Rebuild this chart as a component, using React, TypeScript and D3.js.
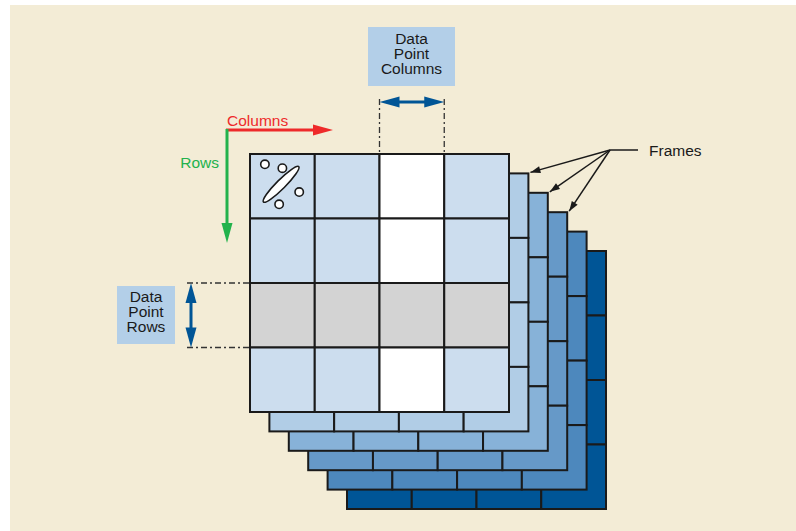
import React from "react";
import * as d3 from "d3";

const W = 796;
const H = 531;

// Data
const columnIds = ["c1", "c2", "c3", "c4"];
const rowIds = ["r1", "r2", "r3", "r4"];
const highlightColumn = "c3";
const highlightRow = "r3";
const frameIds = [1, 2, 3, 4, 5];
const frameColors = ["#B1CDE6", "#87B2D8", "#6699C8", "#4D88BD", "#005596"];
const framesPointedAt = [1, 2, 3];
const dpColumnsLabel = ["Data", "Point", "Columns"];
const dpRowsLabel = ["Data", "Point", "Rows"];
const scatterPoints = [
  [0.23, 0.16],
  [0.5, 0.22],
  [0.76, 0.59],
  [0.45, 0.78],
];

const FONT = "'Liberation Sans', Arial, Helvetica, sans-serif";
const STROKE = "#1a1a1a";

function arrowHead(x1: number, y1: number, x2: number, y2: number, len: number, hw: number) {
  const a = Math.atan2(y2 - y1, x2 - x1);
  const bx = x2 - len * Math.cos(a);
  const by = y2 - len * Math.sin(a);
  const px = -Math.sin(a) * hw;
  const py = Math.cos(a) * hw;
  return `M${x2},${y2}L${bx + px},${by + py}L${bx - px},${by - py}Z`;
}

export default function App() {
  const x = d3.scaleBand<string>().domain(columnIds).range([250, 509]);
  const y = d3.scaleBand<string>().domain(rowIds).range([154, 412]);
  const off = d3.scaleLinear().domain([0, 5]).range([0, 97]);

  const cellFill = (c: string, r: string) =>
    r === highlightRow ? "#D3D3D3" : c === highlightColumn ? "#FFFFFF" : "#CCDDEE";

  const cx0 = x(columnIds[0])!;
  const cy0 = y(rowIds[0])!;
  const bw = x.bandwidth();
  const bh = y.bandwidth();

  const hc = x(highlightColumn)!;
  const hr = y(highlightRow)!;

  const blue = "#005596";
  const red = "#EE2A2A";
  const green = "#22B24C";

  // Frames arrows origin
  const fo = [610, 150];

  return (
    <svg
      width={W}
      height={H}
      style={{ position: "absolute", left: 0, top: 0, background: "#fff" }}
      fontFamily={FONT}
    >
      <rect x={10} y={5} width={W - 10} height={H - 5} fill="#F3ECD6" />

      {/* frames from back to front */}
      {[...frameIds].reverse().map((f) => {
        const d = off(f);
        return (
          <g key={f} transform={`translate(${d},${d})`}>
            {rowIds.map((r) =>
              columnIds.map((c) => (
                <rect
                  key={r + c}
                  x={x(c)}
                  y={y(r)}
                  width={bw}
                  height={bh}
                  fill={frameColors[f - 1]}
                  stroke={STROKE}
                  strokeWidth={2}
                />
              ))
            )}
          </g>
        );
      })}

      {/* main grid */}
      {rowIds.map((r) =>
        columnIds.map((c) => (
          <rect
            key={r + c}
            x={x(c)}
            y={y(r)}
            width={bw}
            height={bh}
            fill={cellFill(c, r)}
            stroke={STROKE}
            strokeWidth={2}
          />
        ))
      )}

      {/* scatter glyph in first cell */}
      <ellipse
        cx={cx0 + bw * 0.48}
        cy={cy0 + bh * 0.47}
        rx={25}
        ry={4.5}
        transform={`rotate(-45 ${cx0 + bw * 0.48} ${cy0 + bh * 0.47})`}
        fill="#fff"
        stroke={STROKE}
        strokeWidth={1.6}
      />
      {scatterPoints.map(([px, py], i) => (
        <circle
          key={i}
          cx={cx0 + px * bw}
          cy={cy0 + py * bh}
          r={4.2}
          fill="#fff"
          stroke={STROKE}
          strokeWidth={1.6}
        />
      ))}

      {/* Columns / Rows arrows */}
      <line x1={226} y1={130} x2={318} y2={130} stroke={red} strokeWidth={3} />
      <path d={arrowHead(226, 130, 333, 130, 20, 5.5)} fill={red} />
      <text x={227} y={126} fill={red} fontSize={15.5}>Columns</text>

      <line x1={227} y1={129} x2={227} y2={228} stroke={green} strokeWidth={3} />
      <path d={arrowHead(227, 130, 227, 243, 20, 5.5)} fill={green} />
      <text x={219} y={168} fill={green} fontSize={15.5} textAnchor="end">Rows</text>

      {/* Data Point Columns */}
      <rect x={368} y={27} width={87} height={59} fill="#B3CFE8" />
      {dpColumnsLabel.map((t, i) => (
        <text key={t} x={411.5} y={43.5 + i * 15} fontSize={15.5} textAnchor="middle" fill="#1a1a1a">
          {t}
        </text>
      ))}
      <line x1={hc} y1={99} x2={hc} y2={154} stroke="#333" strokeWidth={1.3} strokeDasharray="6,3,2,3" />
      <line x1={hc + bw} y1={99} x2={hc + bw} y2={154} stroke="#333" strokeWidth={1.3} strokeDasharray="6,3,2,3" />
      <line x1={hc + 15} y1={102} x2={hc + bw - 15} y2={102} stroke={blue} strokeWidth={3} />
      <path d={arrowHead(hc + bw, 102, hc, 102, 20, 5.5)} fill={blue} />
      <path d={arrowHead(hc, 102, hc + bw, 102, 20, 5.5)} fill={blue} />

      {/* Data Point Rows */}
      <rect x={117} y={286} width={58} height={58} fill="#B3CFE8" />
      {dpRowsLabel.map((t, i) => (
        <text key={t} x={146} y={302 + i * 15} fontSize={15.5} textAnchor="middle" fill="#1a1a1a">
          {t}
        </text>
      ))}
      <line x1={187} y1={hr} x2={250} y2={hr} stroke="#333" strokeWidth={1.3} strokeDasharray="6,3,2,3" />
      <line x1={187} y1={hr + bh} x2={250} y2={hr + bh} stroke="#333" strokeWidth={1.3} strokeDasharray="6,3,2,3" />
      <line x1={191} y1={hr + 15} x2={191} y2={hr + bh - 15} stroke={blue} strokeWidth={3} />
      <path d={arrowHead(191, hr + bh, 191, hr, 20, 5.5)} fill={blue} />
      <path d={arrowHead(191, hr, 191, hr + bh, 20, 5.5)} fill={blue} />

      {/* Frames label */}
      <line x1={fo[0]} y1={fo[1]} x2={638} y2={fo[1]} stroke={STROKE} strokeWidth={1.5} />
      <text x={649} y={156} fontSize={15.5} fill="#1a1a1a">Frames</text>
      {framesPointedAt.map((f) => {
        const tx = x(columnIds[3])! + bw + off(f) + 2;
        const ty = cy0 + off(f) - 1;
        return (
          <g key={f}>
            <line x1={fo[0]} y1={fo[1]} x2={tx} y2={ty} stroke={STROKE} strokeWidth={1.5} />
            <path d={arrowHead(fo[0], fo[1], tx, ty, 10, 3.5)} fill={STROKE} />
          </g>
        );
      })}
    </svg>
  );
}
